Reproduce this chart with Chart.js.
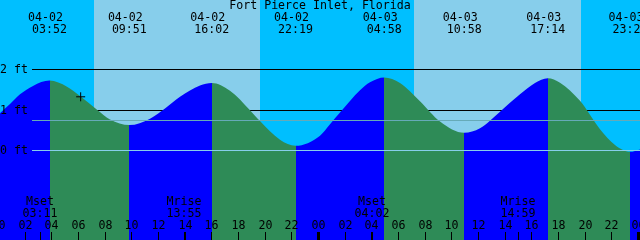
<!DOCTYPE html>
<html>
<head>
<meta charset="utf-8">
<script src="https://cdn.jsdelivr.net/npm/chart.js@4.4.0/dist/chart.umd.min.js"></script>
<style>
  html, body { margin: 0; padding: 0; background: #00bfff; }
  #wrapper { width: 640px; height: 240px; }
</style>
</head>
<body>
<div id="wrapper"><canvas id="myChart" width="640" height="240"></canvas></div>
<script>
const titulo = 'Fort Pierce Inlet, Florida'

// horas desde 04-02 00:00, altura en ft
const horas = [0, 0.9, 1.65, 2.625, 3.867, 5.175, 6.15, 7.425, 8.4, 9.85,
  11.4, 12.525, 13.65, 15.15, 16.033, 17.4, 18.9, 19.65, 21.15, 22.317,
  24.15, 24.9, 25.65, 27.15, 27.9, 28.967, 30.15, 31.65, 33.15, 34.967,
  36.15, 37.65, 39.15, 40.275, 41.233, 42.15, 43.65, 45.15, 46.275, 47.4, 48.15]
const alturas = [0.87, 1.14, 1.38, 1.59, 1.72, 1.57, 1.34, 1.00, 0.76, 0.62,
  0.78, 1.03, 1.32, 1.60, 1.66, 1.47, 0.99, 0.72, 0.26, 0.11,
  0.36, 0.64, 0.93, 1.48, 1.68, 1.80, 1.66, 1.21, 0.71, 0.43,
  0.54, 0.95, 1.38, 1.66, 1.78, 1.67, 1.22, 0.52, 0.13, -0.04, 0.02]

// pleamar / bajamar
const mareaHoras = [3.867, 9.85, 16.033, 22.317, 28.967, 34.967, 41.233, 47.4]
const mareaFechas = ['04-02', '04-02', '04-02', '04-02', '04-03', '04-03', '04-03', '04-03']
const mareaTextos = ['03:52', '09:51', '16:02', '22:19', '04:58', '10:58', '17:14', '23:24']

const lunaHoras = [3.183, 13.917, 28.033, 38.983]
const lunaNombres = ['Mset', 'Mrise', 'Mset', 'Mrise']
const lunaTextos = ['03:11', '13:55', '04:02', '14:59']

const solSale = [7.2, 31.2]
const solPone = [19.65, 43.73]

const nivelesFt = [2, 1, 0]
const nivelMedio = 0.74

const ahoraHora = 6.2
const ahoraAltura = 1.32

const horaTicks = [0, 2, 4, 6, 8, 10, 12, 14, 16, 18, 20, 22, 24,
  26, 28, 30, 32, 34, 36, 38, 40, 42, 44, 46, 48]
const horaLabels = ['00', '02', '04', '06', '08', '10', '12', '14', '16', '18', '20', '22', '00',
  '02', '04', '06', '08', '10', '12', '14', '16', '18', '20', '22', '00']

const azul = '#0000ff'
const verde = '#2e8b57'
const fuente = '11.6px "DejaVu Sans Mono"'

// sube = azul, baja = verde, cambia en cada pleamar/bajamar
function colorMarea(c) {
  const chart = c.chart
  const area = chart.chartArea
  if (!area) return azul
  const x = chart.scales.x
  const w = area.right - area.left
  const g = chart.ctx.createLinearGradient(area.left, 0, area.right, 0)
  let color = alturas[1] > alturas[0] ? azul : verde
  g.addColorStop(0, color)
  mareaHoras.forEach(h => {
    const p = Math.min(1, Math.max(0, (x.getPixelForValue(h) - area.left) / w))
    g.addColorStop(p, color)
    color = color == azul ? verde : azul
    g.addColorStop(p, color)
  })
  g.addColorStop(1, color)
  return g
}

const fondo = {
  id: 'fondo',
  beforeDraw(chart) {
    const ctx = chart.ctx
    const x = chart.scales.x
    const y = chart.scales.y
    ctx.save()
    ctx.fillStyle = '#00bfff'
    ctx.fillRect(0, 0, chart.width, chart.height)
    ctx.fillStyle = '#87ceeb'
    for (let i = 0; i < solSale.length; i++) {
      const x0 = Math.round(x.getPixelForValue(solSale[i]))
      const x1 = Math.round(x.getPixelForValue(solPone[i]))
      ctx.fillRect(x0, 0, x1 - x0, chart.height)
    }
    // lineas negras, quedan detras del agua
    ctx.fillStyle = '#000'
    nivelesFt.filter(v => v > 0).forEach(v => {
      const py = Math.round(y.getPixelForValue(v))
      ctx.fillRect(32, py, chart.width - 32, 1)
    })
    ctx.restore()
  },
  afterDatasetsDraw(chart) {
    const ctx = chart.ctx
    const x = chart.scales.x
    const y = chart.scales.y
    ctx.save()
    ctx.fillStyle = '#66aab8'
    ctx.fillRect(32, Math.round(y.getPixelForValue(nivelMedio)), chart.width - 32, 1)
    ctx.fillStyle = '#87ceeb'
    ctx.fillRect(32, Math.round(y.getPixelForValue(0)), chart.width - 32, 1)

    ctx.fillStyle = '#000'
    ctx.font = fuente
    ctx.textBaseline = 'middle'
    ctx.textAlign = 'left'
    nivelesFt.forEach(v => {
      ctx.fillText(v + ' ft', 0, Math.round(y.getPixelForValue(v)) + 0.5)
    })

    ctx.textAlign = 'center'
    ctx.fillText(titulo, 320, 6)
    mareaHoras.forEach((h, i) => {
      const px = x.getPixelForValue(h)
      ctx.fillText(mareaFechas[i], px - 4, 17.5)
      ctx.fillText(mareaTextos[i], px, 29.5)
    })

    horaTicks.forEach((h, i) => {
      const px = Math.round(x.getPixelForValue(h))
      ctx.fillText(horaLabels[i], px + 0.5, 226)
      if (h % 24 == 0) {
        ctx.fillRect(px - 1, 232, 3, 8)
      } else {
        ctx.fillRect(px, 232, 1, 8)
      }
    })

    lunaHoras.forEach((h, i) => {
      const px = Math.round(x.getPixelForValue(h))
      ctx.fillText(lunaNombres[i], px, 202)
      ctx.fillText(lunaTextos[i], px, 214)
      ctx.fillRect(px, 232, 1, 8)
    })
    ctx.restore()
  }
}

const data = {
  datasets: [
    {
      label: 'ahora',
      data: [{ x: ahoraHora, y: ahoraAltura }],
      showLine: false,
      pointStyle: 'cross',
      pointRadius: 4.5,
      pointBorderColor: '#000',
      pointBorderWidth: 1,
      order: 0
    },
    {
      label: 'marea',
      data: horas.map((h, i) => ({ x: h, y: alturas[i] })),
      fill: 'start',
      backgroundColor: colorMarea,
      borderColor: 'rgba(0,0,0,0)',
      borderWidth: 0,
      pointRadius: 0,
      cubicInterpolationMode: 'monotone',
      order: 1
    }
  ]
}

const config = {
  type: 'line',
  data: data,
  options: {
    responsive: false,
    animation: false,
    events: [],
    layout: { padding: 0, autoPadding: false },
    plugins: {
      legend: { display: false },
      tooltip: { enabled: false }
    },
    scales: {
      x: { type: 'linear', min: 0.15, max: 48.15, display: false },
      y: { min: -2.22, max: 3.713, display: false }
    }
  },
  plugins: [fondo]
}

new Chart(document.getElementById('myChart'), config)
</script>
</body>
</html>
